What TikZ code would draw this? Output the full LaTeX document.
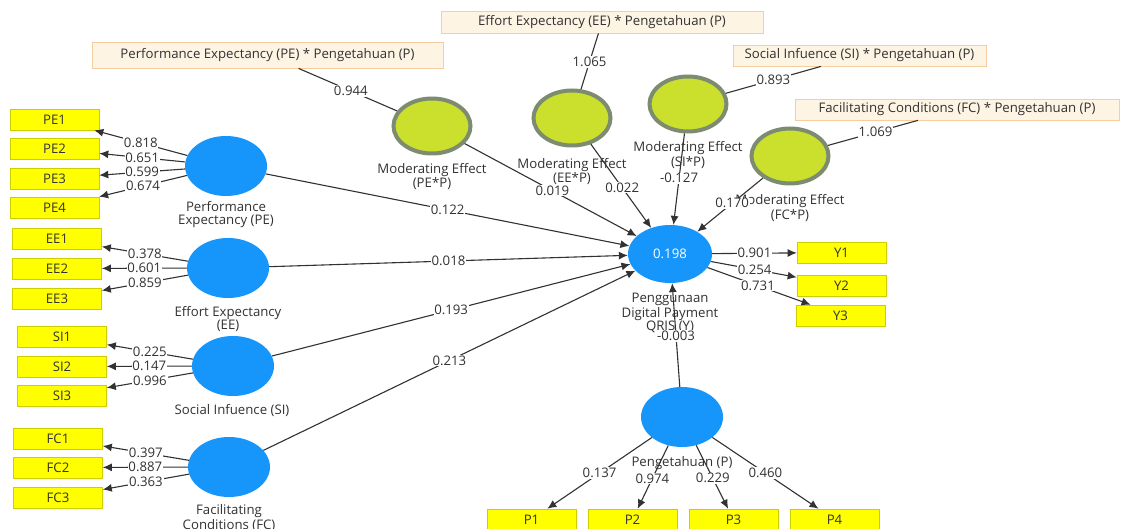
\documentclass[tikz,border=0pt]{standalone}
\usepackage{fontspec}
\setmainfont{Open Sans}
\usetikzlibrary{shapes.geometric,arrows.meta}
\definecolor{cblue}{RGB}{22,150,250}
\definecolor{cgreen}{RGB}{202,224,44}
\definecolor{cgborder}{RGB}{125,140,112}
\definecolor{cyellow}{RGB}{255,255,0}
\definecolor{cyborder}{RGB}{205,205,0}
\definecolor{cbeige}{RGB}{253,244,228}
\definecolor{cbborder}{RGB}{245,205,160}
\definecolor{ctext}{RGB}{50,50,50}
\definecolor{cline}{RGB}{50,50,50}
\begin{document}
\begin{tikzpicture}[x=1pt,y=-1pt,
 every node/.style={font=\fontsize{13.2}{13}\selectfont, text=ctext},
 construct/.style={ellipse, fill=cblue, draw=none, minimum width=82pt, minimum height=60pt, inner sep=0pt},
 moder/.style={ellipse, fill=cgreen, draw=cgborder, line width=4pt, minimum width=77pt, minimum height=55pt, inner sep=0pt},
 ind/.style={rectangle, fill=cyellow, draw=cyborder, line width=0.6pt, minimum width=89pt, minimum height=21pt, inner sep=0pt, text=black!80},
 inter/.style={rectangle, fill=cbeige, draw=cbborder, line width=0.8pt, inner sep=0pt},
 clabel/.style={align=center, inner sep=0pt},
 conn/.style={draw=cline, line width=1.1pt},
 arr/.style={conn, -{Latex[length=9pt,width=8pt]}},
 num/.style={fill=white, inner sep=0.8pt}
]
\fill[white] (0,0) rectangle (1121,529);
\useasboundingbox (0,0) rectangle (1121,529);

% constructs
\node[construct] (PE) at (226,166) {};
\node[construct] (EE) at (228,268) {};
\node[construct] (SI) at (233,366) {};
\node[construct] (FC) at (229,467) {};
\node[construct, minimum width=84pt, minimum height=58pt, text=white] (Y) at (670,254) {0.198};
\node[construct] (P) at (682,417) {};

% moderating effects
\node[moder] (mPE) at (432,126) {};
\node[moder] (mEE) at (572,118) {};
\node[moder] (mSI) at (688,104) {};
\node[moder] (mFC) at (790,156) {};

% interaction terms
\node[inter, minimum width=351pt, minimum height=26pt] (iPE) at (267.5,55) {Performance Expectancy (PE) * Pengetahuan (P)};
\node[inter, minimum width=322pt, minimum height=22pt] (iEE) at (602,22) {Effort Expectancy (EE) * Pengetahuan (P)};
\node[inter, minimum width=253pt, minimum height=21pt] (iSI) at (859.5,55.5) {Social Infuence (SI) * Pengetahuan (P)};
\node[inter, minimum width=324pt, minimum height=21pt] (iFC) at (957,109.5) {Facilitating Conditions (FC) * Pengetahuan (P)};

% indicators
\node[ind] (PE1) at (54.5,119.5) {PE1};
\node[ind] (PE2) at (54.5,149) {PE2};
\node[ind] (PE3) at (54.5,178.5) {PE3};
\node[ind] (PE4) at (54.5,207.5) {PE4};
\node[ind] (EE1) at (57,239) {EE1};
\node[ind] (EE2) at (57,268.5) {EE2};
\node[ind] (EE3) at (57,298.5) {EE3};
\node[ind] (SI1) at (62,337) {SI1};
\node[ind] (SI2) at (62,366.5) {SI2};
\node[ind] (SI3) at (62,395.5) {SI3};
\node[ind] (FC1) at (58,438.5) {FC1};
\node[ind] (FC2) at (58,467.5) {FC2};
\node[ind] (FC3) at (58,497.5) {FC3};
\node[ind] (Y1) at (841.5,252.5) {Y1};
\node[ind] (Y2) at (841.5,285.5) {Y2};
\node[ind] (Y3) at (840.5,315.5) {Y3};
\node[ind] (P1) at (531.5,519.5) {P1};
\node[ind] (P2) at (632.5,519.5) {P2};
\node[ind] (P3) at (733.5,519.5) {P3};
\node[ind] (P4) at (834.5,519.5) {P4};

% construct labels
\node[clabel] (tPE) at (226,214.5) {Performance\\Expectancy (PE)};
\node[clabel] (tEE) at (228,319) {Effort Expectancy\\(EE)};
\node[clabel] (tSI) at (232,410) {Social Infuence (SI)};
\node[clabel] (tFC) at (229,518) {Facilitating\\Conditions (FC)};
\node[clabel] (tY) at (670,313) {Penggunaan\\Digital Payment\\QRIS (Y)};
\node[clabel] (tP) at (682,463) {Pengetahuan (P)};
\node[clabel] (tmPE) at (432,176.5) {Moderating Effect\\(PE*P)};
\node[clabel] (tmEE) at (572,171.5) {Moderating Effect\\(EE*P)};
\node[clabel] (tmSI) at (688,155) {Moderating Effect\\(SI*P)};
\node[clabel] (tmFC) at (790,208) {Moderating Effect\\(FC*P)};

% outer loadings (left)
\draw[arr] (PE) -- node[num,pos=0.5]{0.818} (PE1);
\draw[arr] (PE) -- node[num,pos=0.5]{0.651} (PE2);
\draw[arr] (PE) -- node[num,pos=0.5]{0.599} (PE3);
\draw[arr] (PE) -- node[num,pos=0.5]{0.674} (PE4);
\draw[arr] (EE) -- node[num,pos=0.5]{0.378} (EE1);
\draw[arr] (EE) -- node[num,pos=0.5]{0.601} (EE2);
\draw[arr] (EE) -- node[num,pos=0.5]{0.859} (EE3);
\draw[arr] (SI) -- node[num,pos=0.5]{0.225} (SI1);
\draw[arr] (SI) -- node[num,pos=0.5]{0.147} (SI2);
\draw[arr] (SI) -- node[num,pos=0.5]{0.996} (SI3);
\draw[arr] (FC) -- node[num,pos=0.5]{0.397} (FC1);
\draw[arr] (FC) -- node[num,pos=0.5]{0.887} (FC2);
\draw[arr] (FC) -- node[num,pos=0.5]{0.363} (FC3);

% Y loadings
\draw[arr] (Y) -- node[num,pos=0.5]{0.901} (Y1);
\draw[arr] (Y) -- node[num,pos=0.51]{0.254} (Y2);
\draw[arr] (Y) -- node[num,pos=0.49]{0.731} (Y3);

% P loadings
\draw[arr] (P) -- node[num,pos=0.5]{0.137} (P1);
\draw[arr] (P) -- node[num,pos=0.52]{0.974} (P2);
\draw[arr] (P) -- node[num,pos=0.52]{0.229} (P3);
\draw[arr] (P) -- node[num,pos=0.5]{0.460} (P4);

% interaction term to moderating effect
\draw[conn] (iPE) -- node[num,pos=0.53]{0.944} (mPE);
\draw[conn] (iEE) -- node[num,pos=0.51]{1.065} (mEE);
\draw[conn] (iSI) -- node[num,pos=0.5]{0.893} (mSI);
\draw[conn] (iFC) -- node[num,pos=0.47]{1.069} (mFC);

% structural paths
\draw[arr] (PE) -- node[num,pos=0.5]{0.122} (Y);
\draw[arr] (EE) -- node[num,pos=0.5]{0.018} (Y);
\draw[arr] (SI) -- node[num,pos=0.5]{0.193} (Y);
\draw[arr] (FC) -- node[num,pos=0.5]{0.213} (Y);
\draw[arr] (mPE) -- node[num,pos=0.51]{0.019} (Y);
\draw[arr] (mEE) -- node[num,pos=0.52]{0.022} (Y);
\draw[arr] (mSI) -- node[num,pos=0.49]{-0.127} (Y);
\draw[arr] (mFC) -- node[num,pos=0.47]{0.170} (Y);
\draw[arr] (P) -- node[num,pos=0.49]{-0.003} (Y);
\end{tikzpicture}
\end{document}
